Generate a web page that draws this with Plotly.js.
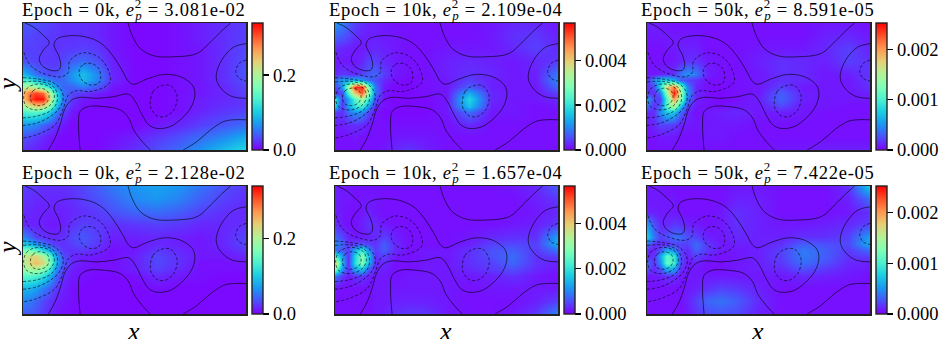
<!DOCTYPE html>
<html><head><meta charset="utf-8">
<script src="https://cdn.plot.ly/plotly-3.0.1.min.js"></script>
<style>html,body{margin:0;padding:0;background:#fff}#c{width:942px;height:339px}</style></head>
<body><div id="c"></div><script>
const gridX=[0,.03,.06,.09,.12,.15,.18,.22,.27,.33,.4,.5,.6,.7,.8,.9,1];
const gridY=[1,.9,.8,.7,.6,.55,.5,.45,.4,.35,.3,.2,.1,0];
// values as percent of each colour-bar top
const err0kA=[
[11,11,10,9,8,7,6,6,6,5,3,1,1,2,4,6,8],
[9,9,8,8,7,7,6,6,6,5,3,1,1,2,4,6,8],
[8,8,8,7,7,6,7,7,8,7,3,1,1,2,3,6,9],
[10,9,8,7,7,7,9,12,14,10,4,1,1,2,3,6,10],
[26,20,14,11,9,10,13,20,27,18,5,1,1,2,3,6,11],
[40,36,28,22,17,13,14,19,26,18,5,1,1,2,3,6,10],
[60,62,56,46,34,20,13,13,16,11,3,1,1,2,3,5,9],
[74,86,92,86,60,34,15,9,7,4,2,1,1,2,3,5,8],
[70,90,98,98,66,37,16,7,3,2,1,1,1,2,4,5,7],
[56,64,70,68,50,28,12,5,2,1,1,1,1,2,4,6,7],
[40,42,42,38,29,17,8,3,1,1,1,1,1,2,5,7,9],
[20,19,17,13,9,6,3,1,1,1,1,1,3,5,8,11,14],
[10,9,7,5,3,2,1,1,1,1,2,4,7,10,14,18,24],
[6,5,4,3,2,1,1,1,1,1,3,6,10,14,20,27,33]];
const err10kA=[
[20,17,12,8,6,4,4,3,2,2,2,2,2,3,5,5,3],
[13,11,9,6,4,4,4,3,3,2,2,2,2,3,6,7,4],
[6,5,4,3,3,4,5,4,3,2,2,3,3,3,5,8,5],
[3,3,3,3,5,8,8,5,3,2,2,4,5,4,3,5,7],
[5,7,6,5,8,11,13,8,3,2,2,4,6,5,3,4,16],
[14,22,22,25,20,14,10,5,2,1,2,3,8,4,3,4,18],
[8,20,55,95,95,52,15,3,1,1,2,3,12,4,3,3,14],
[5,10,40,72,88,55,15,3,1,1,2,3,24,5,3,3,8],
[36,8,22,42,58,38,10,2,1,1,1,3,32,5,3,3,5],
[30,6,22,36,40,22,5,2,1,1,1,3,28,4,3,2,3],
[8,6,14,20,18,9,3,1,1,1,1,3,14,3,3,2,2],
[4,4,5,6,5,3,2,2,2,2,2,2,5,2,2,2,2],
[2,2,2,3,2,2,2,2,3,3,3,2,2,2,2,2,2],
[2,2,2,2,2,2,2,3,5,7,4,2,2,2,2,2,2]];
const err50kA=[
[4,4,3,3,2,2,2,2,2,2,2,2,2,2,3,3,2],
[3,3,3,3,3,3,3,3,2,2,2,2,2,2,4,5,3],
[2,2,2,3,3,4,4,4,2,2,2,3,3,3,5,8,4],
[2,2,2,2,3,4,6,6,3,2,2,4,6,5,4,8,6],
[3,3,4,5,6,14,20,16,4,2,2,3,6,5,3,4,7],
[5,18,28,30,24,12,8,6,2,2,2,3,6,5,3,3,7],
[5,10,32,70,85,55,18,4,2,1,2,3,8,3,3,3,6],
[6,6,15,55,98,62,20,5,2,1,2,3,12,4,3,3,4],
[22,8,8,42,78,55,16,4,2,1,2,4,13,4,3,3,3],
[14,6,12,45,60,30,8,3,2,2,3,3,9,3,3,2,2],
[5,6,18,30,28,14,5,2,3,4,5,3,4,3,2,2,2],
[3,5,8,8,7,4,3,3,3,3,3,2,2,2,2,2,2],
[2,2,3,3,3,2,2,2,3,3,2,2,2,2,2,2,2],
[2,2,2,2,2,2,2,2,2,2,2,2,3,3,4,4,4]];
const err0kB=[
[8,7,7,6,6,6,6,7,9,12,16,20,22,20,15,10,7],
[6,6,5,5,5,5,5,6,8,10,13,18,20,17,12,8,6],
[5,5,4,4,4,4,4,5,6,7,10,13,14,12,8,6,5],
[5,4,4,4,3,3,4,6,8,7,6,7,8,7,5,5,6],
[18,13,8,6,5,5,6,9,11,8,4,4,5,4,3,5,9],
[30,26,20,15,10,7,6,8,10,7,3,3,5,4,3,5,9],
[48,48,42,32,22,13,7,6,7,5,2,3,7,5,3,4,7],
[60,66,68,60,42,22,10,5,4,3,2,4,9,6,3,3,5],
[60,68,73,68,48,26,11,5,3,2,2,4,9,6,2,2,3],
[54,58,58,52,37,19,8,4,2,2,2,4,8,5,2,2,2],
[42,42,40,34,24,13,6,3,2,1,1,2,5,3,2,1,1],
[26,25,22,17,12,7,4,2,1,1,1,1,2,1,1,1,1],
[17,16,13,9,6,4,3,2,1,1,1,1,1,1,1,1,1],
[12,11,10,7,5,3,2,1,1,1,1,1,1,1,1,1,1]];
const err10kB=[
[4,3,3,2,2,2,2,2,2,2,2,2,2,2,3,5,12],
[4,3,3,2,3,3,3,2,2,2,2,2,2,2,2,4,7],
[4,3,2,2,3,4,3,2,2,2,2,2,2,2,2,3,5],
[6,3,2,2,4,6,5,3,2,2,2,2,2,2,3,4,7],
[13,9,4,3,3,4,5,8,4,2,2,2,3,5,6,6,22],
[18,14,6,8,10,8,6,12,5,2,2,2,4,8,9,8,24],
[14,10,8,24,38,20,7,12,5,2,3,3,6,10,12,7,15],
[40,22,6,32,50,30,6,8,3,2,3,3,6,10,14,6,8],
[70,26,6,34,50,27,5,5,2,2,3,3,6,8,13,6,4],
[52,20,6,24,28,12,4,4,2,2,3,3,5,7,10,5,3],
[15,7,3,6,7,4,3,3,2,3,3,3,3,4,6,3,2],
[3,2,2,2,2,2,3,3,3,3,3,3,2,3,3,3,3],
[2,2,2,2,2,2,3,3,4,4,4,3,2,2,2,4,8],
[2,2,2,2,2,2,3,4,6,7,7,3,2,2,3,7,18]];
const err50kB=[
[3,3,3,2,2,2,2,2,2,2,3,3,2,2,2,6,30],
[3,3,3,3,3,2,2,2,2,2,4,4,2,2,2,4,14],
[4,4,3,3,3,2,2,2,2,3,6,4,2,2,2,3,6],
[20,10,5,5,7,6,4,3,2,3,6,4,3,3,4,5,8],
[30,16,8,10,14,14,10,8,4,3,5,4,4,6,6,8,22],
[14,6,5,6,8,8,8,14,7,3,4,4,6,12,10,9,24],
[5,4,10,24,18,8,5,12,7,3,3,4,8,16,12,7,14],
[5,6,22,44,36,10,4,8,4,2,3,4,8,16,12,6,8],
[14,6,18,46,38,10,3,4,2,2,3,4,7,14,10,5,4],
[10,5,10,24,22,6,3,3,2,2,3,4,5,10,7,4,3],
[3,3,4,6,6,3,3,3,3,3,3,3,3,5,4,3,2],
[2,2,2,2,2,2,3,4,6,8,7,4,2,2,2,2,2],
[2,2,2,2,2,2,4,8,13,15,12,5,2,2,2,2,2],
[2,2,2,2,2,2,3,6,9,10,9,4,2,2,2,2,2]];
const scaleTops=[0.339,0.00566,0.00253];
const tickVals=[[0,0.2],[0,0.002,0.004],[0,0.001,0.002]];
const tickText=[["0.0","0.2"],["0.000","0.002","0.004"],["0.000","0.001","0.002"]];
const epochs=["0k","10k","50k"];
const errA=["3.081e-02","2.109e-04","8.591e-05"];
const errB=["2.128e-02","1.657e-04","7.422e-05"];
// reference-field contour lines, read as [x,y] in the unit domain
const solidLines=[
[[.009,1],[.046,.969],[.091,.903],[.118,.846],[.091,.786],[.073,.721],[.084,.668],[.121,.629],[.159,.629],[.169,.668],[.159,.747],[.139,.825],[.151,.872],[.189,.896],[.256,.898],[.316,.872],[.361,.825],[.406,.734],[.444,.629],[.474,.538],[.496,.517],[.556,.559],[.631,.595],[.706,.577],[.759,.512],[.771,.446],[.759,.355],[.721,.264],[.661,.185],[.601,.170],[.564,.198],[.534,.277],[.504,.381],[.474,.439],[.406,.420],[.331,.407],[.256,.415],[.219,.394],[.189,.329],[.166,.198],[.144,.094],[.114,0]],
[[.471,1],[.489,.903],[.526,.799],[.586,.742],[.676,.734],[.781,.760],[.841,.851],[.894,.943],[.931,1]],
[[.256,0],[.249,.198],[.256,.303],[.294,.342],[.361,.342],[.436,.316],[.474,.251],[.496,.159],[.534,.068],[.571,0]],
[[.718,0],[.781,.068],[.841,.159],[.901,.225],[.946,.238],[1,.238]],
[[1,.838],[.946,.812],[.901,.734],[.871,.629],[.868,.551],[.894,.473],[.939,.420],[1,.407]]];
const dashedLines=[
[[.004,.771],[.030,.674],[.075,.615],[.172,.576],[.202,.609],[.209,.701],[.247,.753],[.277,.766],[.324,.747],[.361,.695],[.388,.603],[.391,.538],[.369,.499],[.301,.460],[.241,.467],[.204,.433],[.181,.329],[.144,.198],[.061,.120],[0,.094]],
[[.253,.629],[.271,.674],[.309,.681],[.339,.642],[.349,.577],[.339,.525],[.301,.512],[.268,.543],[.253,.590],[.253,.629]],
[[.571,.381],[.583,.460],[.616,.504],[.661,.507],[.688,.446],[.691,.394],[.676,.316],[.639,.264],[.601,.269],[.574,.329],[.571,.381]],
[[1,.708],[.969,.681],[.954,.616],[.969,.564],[1,.543]],
[[0,.570],[.075,.557],[.135,.531],[.169,.479],[.181,.414],[.161,.323],[.117,.258],[.060,.211],[0,.193]],
[[0,.536],[.075,.539],[.132,.505],[.154,.440],[.149,.362],[.117,.302],[.060,.266],[0,.253]],
[[.003,.414],[.015,.479],[.045,.513],[.090,.518],[.127,.487],[.141,.427],[.127,.362],[.090,.323],[.045,.318],[.012,.349],[.003,.414]],
[[.033,.414],[.045,.466],[.075,.487],[.108,.466],[.117,.414],[.102,.367],[.067,.349],[.042,.367],[.033,.414]]];

const rainbow=[[0,'#8000ff'],[.1,'#4c4ffc'],[.2,'#1a96f2'],[.3,'#1acee3'],[.4,'#4cf2ce'],[.5,'#80ffb4'],[.6,'#b3f296'],[.7,'#e6ce74'],[.8,'#ff964f'],[.9,'#ff4f28'],[1,'#ff0000']];
const W=942,H=339,FONT='Liberation Serif';
const colL=[23,335,647],colW=223,rowT=[23,186],rowH=[127,128];
const barX=[252,564,876];
const panels=[[err0kA,err10kA,err50kA],[err0kB,err10kB,err50kB]];
const titles=[errA,errB];
const flat=L=>{const x=[],y=[];L.forEach(l=>{l.forEach(p=>{x.push(p[0]);y.push(p[1])});x.push(null);y.push(null)});return{x,y}};
const ascY=gridY.slice().reverse();
const traces=[],layout={width:W,height:H,margin:{l:0,r:0,t:0,b:0,autoexpand:false},paper_bgcolor:'#fff',plot_bgcolor:'#fff',showlegend:false,font:{family:FONT,color:'#000'},annotations:[]};
const axisLabel=(px,py,text,angle)=>({xref:'paper',yref:'paper',x:px/W,y:1-py/H,xanchor:'center',yanchor:'middle',showarrow:false,textangle:angle,
   font:{family:FONT,size:26,color:'#000'},borderpad:0,text});
for(let r=0;r<2;r++)for(let c=0;c<3;c++){
  const n=r*3+c+1,sx=n===1?'':n,xa='x'+sx,ya='y'+sx;
  traces.push({type:'heatmap',x:gridX,y:ascY,z:panels[r][c].slice().reverse().map(row=>row.map(v=>v/100*scaleTops[c])),
    xaxis:xa,yaxis:ya,zmin:0,zmax:scaleTops[c],zsmooth:'best',colorscale:rainbow,hoverinfo:'skip',
    colorbar:{x:barX[c]/W,xanchor:'left',xref:'paper',thickness:11,thicknessmode:'pixels',
      y:1-(rowT[r]+rowH[r])/H,yanchor:'bottom',len:rowH[r]/H,lenmode:'fraction',xpad:0,ypad:0,
      outlinewidth:1.4,outlinecolor:'#222',ticks:'outside',ticklen:6,tickwidth:1.3,tickcolor:'#000',
      tickmode:'array',tickvals:tickVals[c],ticktext:tickText[c],tickfont:{family:FONT,size:18.5,color:'#000'}}});
  const s=flat(solidLines),d=flat(dashedLines);
  const ln=dash=>({color:'rgba(0,0,0,0.75)',width:0.8,shape:'spline',smoothing:1,dash});
  traces.push({type:'scatter',mode:'lines',x:s.x,y:s.y,xaxis:xa,yaxis:ya,line:ln('solid'),hoverinfo:'skip'});
  traces.push({type:'scatter',mode:'lines',x:d.x,y:d.y,xaxis:xa,yaxis:ya,line:ln('3px,2px'),hoverinfo:'skip'});
  const base={showgrid:false,zeroline:false,ticks:'',showticklabels:false,showline:true,mirror:true,linecolor:'#222',linewidth:1.5,range:[0,1],fixedrange:true};
  layout['xaxis'+sx]=Object.assign({},base,{domain:[colL[c]/W,(colL[c]+colW)/W],anchor:ya});
  layout['yaxis'+sx]=Object.assign({},base,{domain:[1-(rowT[r]+rowH[r])/H,1-rowT[r]/H],anchor:xa});
  layout.annotations.push({xref:'paper',yref:'paper',x:(colL[c]+colW/2-0.5)/W,y:1-(rowT[r]+1)/H,xanchor:'center',yanchor:'bottom',showarrow:false,
     font:{family:FONT,size:18.5,color:'#000'},borderpad:0,
     text:`<span style="letter-spacing:0.75px">Epoch = ${epochs[c]}, <i>e</i><sup style="letter-spacing:-6px">2</sup><sub><i>p</i></sub> = ${titles[r][c]}</span>`});
  if(r===1) layout.annotations.push(axisLabel(colL[c]+colW/2-1,331,'<i>x</i>',0));
  if(c===0) layout.annotations.push(axisLabel(7,rowT[r]+rowH[r]/2-1,'<i>y</i>',-90));
}
Plotly.newPlot('c',traces,layout,{displayModeBar:false,staticPlot:true});
</script></body></html>
